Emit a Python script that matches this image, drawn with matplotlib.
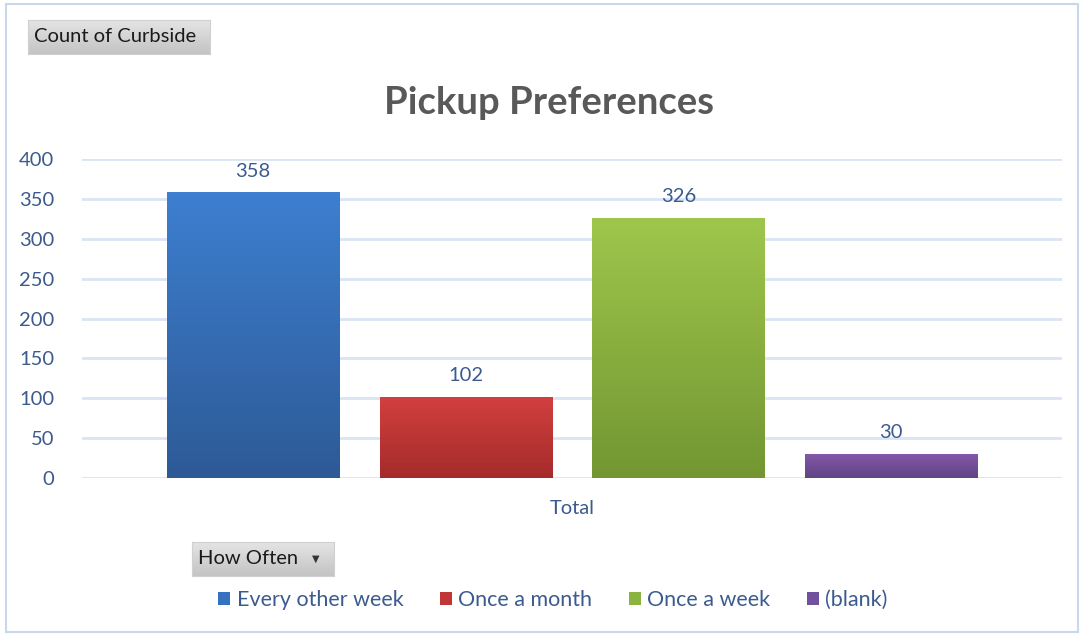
import numpy as np
import matplotlib
matplotlib.use('Agg')
import matplotlib.pyplot as plt
from matplotlib.colors import LinearSegmentedColormap
from matplotlib.patches import Rectangle

categories = ['Every other week', 'Once a month', 'Once a week', '(blank)']
counts = [358, 102, 326, 30]
y_ticks = [0, 50, 100, 150, 200, 250, 300, 350, 400]
x_label = 'Total'
title = 'Pickup Preferences'

# top / bottom colours of the gradient fills
grad_top = ['#3D7FD0', '#D33F3F', '#9FC64C', '#8358A8']
grad_bot = ['#2D5A96', '#A52B2B', '#739632', '#614385']
mid_cols = ['#3670C0', '#C03535', '#8AB43F', '#7150A0']

text_blue = '#3B5B8E'
grid_col = '#D9E4F4'

plt.rcParams['font.family'] = ['Lato', 'DejaVu Sans']

W, H = 1081, 634
fig = plt.figure(figsize=(W / 100, H / 100), dpi=100)

def fx(px):
    return px / W

def fy(py):
    return 1 - py / H

# outer chart border
fig.patches.append(Rectangle((fx(6), fy(632)), fx(1072), (628) / H,
                             transform=fig.transFigure, fill=False,
                             edgecolor='#C9D7EB', lw=1.5))

ax = fig.add_axes([fx(82), fy(478), fx(980), 319 / H])
ax.set_yticks(y_ticks)
ax.yaxis.grid(True, color=grid_col, lw=2)
ax.set_axisbelow(True)
for s in ax.spines.values():
    s.set_visible(False)
ax.tick_params(axis='y', length=0, labelsize=14.5, labelcolor=text_blue, pad=20)
ax.set_yticklabels([str(v) for v in y_ticks])
ax.set_xticks([])

xs = np.arange(len(categories))
bars = ax.bar(xs, counts, width=0.81, color=mid_cols, zorder=2)
for i, b in enumerate(bars):
    cmap = LinearSegmentedColormap.from_list('g%d' % i, [grad_bot[i], grad_top[i]])
    grad = np.linspace(0, 1, 256).reshape(-1, 1)
    x0 = b.get_x()
    im = ax.imshow(grad, cmap=cmap, origin='lower', aspect='auto',
                   extent=[x0, x0 + b.get_width(), 0, b.get_height()], zorder=3)
    im.set_clip_path(b)
    ax.text(b.get_x() + b.get_width() / 2, b.get_height() + 16, str(counts[i]),
            ha='center', va='bottom', fontsize=14.5, color=text_blue)

ax.set_xlim(-0.805, 3.805)
ax.set_ylim(0, 400)
ax.set_xlabel(x_label, fontsize=14.5, color=text_blue, labelpad=16)

fig.text(fx(549), fy(103), title, ha='center', va='center', fontsize=27.5,
         fontweight='bold', color='#595959')

# pivot field buttons
def button(x0, y0, x1, y1, label, arrow=False):
    bax = fig.add_axes([fx(x0), fy(y1), fx(x1 - x0), (y1 - y0) / H])
    g = np.linspace(0, 1, 64).reshape(-1, 1)
    cm = LinearSegmentedColormap.from_list('btn', ['#C4C4C4', '#E4E4E4'])
    bax.imshow(g, cmap=cm, origin='lower', aspect='auto', extent=[0, 1, 0, 1])
    bax.set_xlim(0, 1)
    bax.set_ylim(0, 1)
    bax.set_xticks([])
    bax.set_yticks([])
    for s in bax.spines.values():
        s.set_color('#D0D0D0')
    bax.text(6 / (x1 - x0), 0.5, label, ha='left', va='center', fontsize=14.5,
             color='#1A1A1A')
    if arrow:
        bax.text(1 - 18 / (x1 - x0), 0.5, '\u25BC', ha='center', va='center',
                 fontsize=7, color='#333333', family='DejaVu Sans')

button(28, 20, 210, 54, 'Count of Curbside')
button(192, 542, 334, 576, 'How Often', arrow=True)

leg = fig.legend(bars, categories, loc='center', bbox_to_anchor=(fx(553), fy(600)),
                 ncol=4, frameon=False, fontsize=15.5, handlelength=0.55,
                 handleheight=0.55, handletextpad=0.3, columnspacing=1.7)
for t in leg.get_texts():
    t.set_color(text_blue)

fig.savefig('out.png', dpi=100)
